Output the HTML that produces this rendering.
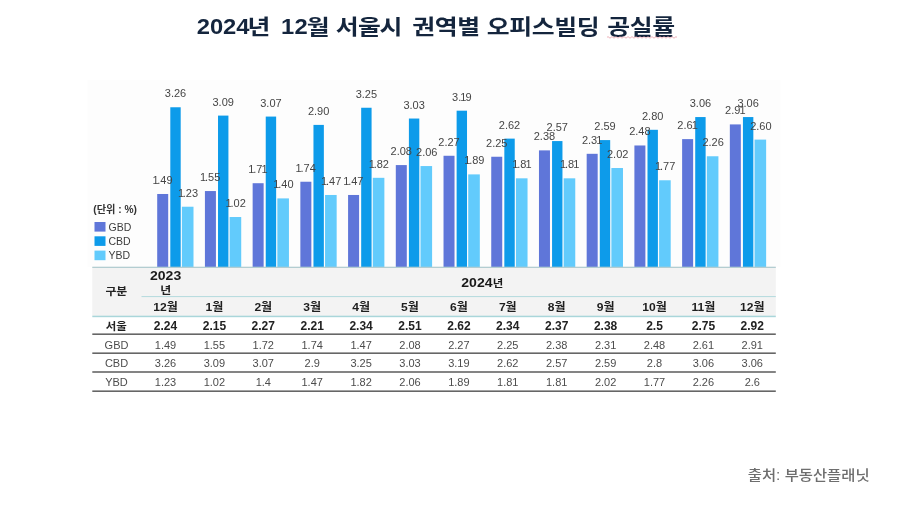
<!DOCTYPE html>
<html lang="ko"><head><meta charset="utf-8"><title>2024년 12월 서울시 권역별 오피스빌딩 공실률</title>
<style>
html,body{margin:0;padding:0;background:#fff;}
body{width:900px;height:510px;overflow:hidden;}
svg{display:block;}
text{font-family:"Liberation Sans","Noto Sans CJK KR","NanumGothic",sans-serif;}
.title{font-size:22px;font-weight:700;fill:#14253d;}
.lbl{font-size:11px;fill:#454545;text-anchor:middle;}
.lg{font-size:10.5px;fill:#3c3c3c;}
.unit{font-size:10.2px;fill:#333;font-weight:700;}
.thk{font-size:10.8px;font-weight:700;fill:#222;text-anchor:middle;}
.thn{font-size:13px;font-weight:700;fill:#1a1a1a;text-anchor:middle;}
.thy{font-size:12.5px;font-weight:700;fill:#1a1a1a;text-anchor:middle;}
.thm{font-size:11.2px;font-weight:700;fill:#1e1e1e;text-anchor:middle;}
.tbk{font-size:10.4px;font-weight:700;fill:#222;text-anchor:middle;}
.tb{font-size:12px;font-weight:700;fill:#222;text-anchor:middle;}
.td{font-size:11px;fill:#4c4c4c;text-anchor:middle;}
.src{font-size:14px;font-weight:500;fill:#6e6e6e;}
</style></head><body>
<svg width="900" height="510" viewBox="0 0 900 510">
<rect x="0" y="0" width="900" height="510" fill="#ffffff"/>
<rect x="87.5" y="80" width="693" height="187" fill="#fdfdfd"/>
<g>
<text class="title" style="font-size:22px" transform="scale(1.0800,1)" x="182.13 194.35 206.57 218.80" y="34.3">2024</text>
<text class="title" style="font-size:21px" transform="scale(1.1840,1)" x="209.12" y="33.7">년</text>
<text class="title" style="font-size:22px" transform="scale(1.0800,1)" x="260.19 272.59" y="34.3">12</text>
<text class="title" style="font-size:21px" transform="scale(1.1840,1)" x="259.12 274.49 283.61 302.36 320.61 337.84 348.14 367.15 386.15 402.87 411.06 430.07 449.07 468.07 487.08 504.22 512.84 531.84 550.84" y="33.7">월 서울시 권역별 오피스빌딩 공실률</text>
</g>
<path d="M607 37.4 Q608.0 35.8 609.0 37.4 Q610.0 39.0 611.0 37.4 Q612.0 35.8 613.0 37.4 Q614.0 39.0 615.0 37.4 Q616.0 35.8 617.0 37.4 Q618.0 39.0 619.0 37.4 Q620.0 35.8 621.0 37.4 Q622.0 39.0 623.0 37.4 Q624.0 35.8 625.0 37.4 Q626.0 39.0 627.0 37.4 Q628.0 35.8 629.0 37.4 Q630.0 39.0 631.0 37.4 Q632.0 35.8 633.0 37.4 Q634.0 39.0 635.0 37.4 Q636.0 35.8 637.0 37.4 Q638.0 39.0 639.0 37.4 Q640.0 35.8 641.0 37.4 Q642.0 39.0 643.0 37.4 Q644.0 35.8 645.0 37.4 Q646.0 39.0 647.0 37.4 Q648.0 35.8 649.0 37.4 Q650.0 39.0 651.0 37.4 Q652.0 35.8 653.0 37.4 Q654.0 39.0 655.0 37.4 Q656.0 35.8 657.0 37.4 Q658.0 39.0 659.0 37.4 Q660.0 35.8 661.0 37.4 Q662.0 39.0 663.0 37.4 Q664.0 35.8 665.0 37.4 Q666.0 39.0 667.0 37.4 Q668.0 35.8 669.0 37.4 Q670.0 39.0 671.0 37.4 Q672.0 35.8 673.0 37.4 Q674.0 39.0 675.0 37.4 Q676.0 35.8 677.0 37.4" fill="none" stroke="#e79aa4" stroke-width="0.9" opacity="0.85"/>
<rect x="157.20" y="193.99" width="11.00" height="73.01" fill="#5f76d9"/>
<rect x="170.30" y="107.26" width="10.40" height="159.74" fill="#0d9bea"/>
<rect x="181.90" y="206.73" width="11.60" height="60.27" fill="#62cbfc"/>
<rect x="204.92" y="191.05" width="11.00" height="75.95" fill="#5f76d9"/>
<rect x="218.02" y="115.59" width="10.40" height="151.41" fill="#0d9bea"/>
<rect x="229.62" y="217.02" width="11.60" height="49.98" fill="#62cbfc"/>
<rect x="252.64" y="183.21" width="11.00" height="83.79" fill="#5f76d9"/>
<rect x="265.74" y="116.57" width="10.40" height="150.43" fill="#0d9bea"/>
<rect x="277.34" y="198.40" width="11.60" height="68.60" fill="#62cbfc"/>
<rect x="300.36" y="181.74" width="11.00" height="85.26" fill="#5f76d9"/>
<rect x="313.46" y="124.90" width="10.40" height="142.10" fill="#0d9bea"/>
<rect x="325.06" y="194.97" width="11.60" height="72.03" fill="#62cbfc"/>
<rect x="348.08" y="194.97" width="11.00" height="72.03" fill="#5f76d9"/>
<rect x="361.18" y="107.75" width="10.40" height="159.25" fill="#0d9bea"/>
<rect x="372.78" y="177.82" width="11.60" height="89.18" fill="#62cbfc"/>
<rect x="395.80" y="165.08" width="11.00" height="101.92" fill="#5f76d9"/>
<rect x="408.90" y="118.53" width="10.40" height="148.47" fill="#0d9bea"/>
<rect x="420.50" y="166.06" width="11.60" height="100.94" fill="#62cbfc"/>
<rect x="443.52" y="155.77" width="11.00" height="111.23" fill="#5f76d9"/>
<rect x="456.62" y="110.69" width="10.40" height="156.31" fill="#0d9bea"/>
<rect x="468.22" y="174.39" width="11.60" height="92.61" fill="#62cbfc"/>
<rect x="491.24" y="156.75" width="11.00" height="110.25" fill="#5f76d9"/>
<rect x="504.34" y="138.62" width="10.40" height="128.38" fill="#0d9bea"/>
<rect x="515.94" y="178.31" width="11.60" height="88.69" fill="#62cbfc"/>
<rect x="538.96" y="150.38" width="11.00" height="116.62" fill="#5f76d9"/>
<rect x="552.06" y="141.07" width="10.40" height="125.93" fill="#0d9bea"/>
<rect x="563.66" y="178.31" width="11.60" height="88.69" fill="#62cbfc"/>
<rect x="586.68" y="153.81" width="11.00" height="113.19" fill="#5f76d9"/>
<rect x="599.78" y="140.09" width="10.40" height="126.91" fill="#0d9bea"/>
<rect x="611.38" y="168.02" width="11.60" height="98.98" fill="#62cbfc"/>
<rect x="634.40" y="145.48" width="11.00" height="121.52" fill="#5f76d9"/>
<rect x="647.50" y="129.80" width="10.40" height="137.20" fill="#0d9bea"/>
<rect x="659.10" y="180.27" width="11.60" height="86.73" fill="#62cbfc"/>
<rect x="682.12" y="139.11" width="11.00" height="127.89" fill="#5f76d9"/>
<rect x="695.22" y="117.06" width="10.40" height="149.94" fill="#0d9bea"/>
<rect x="706.82" y="156.26" width="11.60" height="110.74" fill="#62cbfc"/>
<rect x="729.84" y="124.41" width="11.00" height="142.59" fill="#5f76d9"/>
<rect x="742.94" y="117.06" width="10.40" height="149.94" fill="#0d9bea"/>
<rect x="754.54" y="139.60" width="11.60" height="127.40" fill="#62cbfc"/>
<text class="lbl" x="162.50" y="183.99" dx="0 -1.2 0 0">1.49</text>
<text class="lbl" x="175.50" y="97.26">3.26</text>
<text class="lbl" x="188.00" y="196.73" dx="0 -1.2 0 0">1.23</text>
<text class="lbl" x="210.22" y="181.05" dx="0 -1.2 0 0">1.55</text>
<text class="lbl" x="223.22" y="105.59">3.09</text>
<text class="lbl" x="235.72" y="207.02" dx="0 -1.2 0 0">1.02</text>
<text class="lbl" x="257.94" y="173.21" dx="0 -1.2 0 -0.9">1.71</text>
<text class="lbl" x="270.94" y="106.57">3.07</text>
<text class="lbl" x="283.44" y="188.40" dx="0 -1.2 0 0">1.40</text>
<text class="lbl" x="305.66" y="171.74" dx="0 -1.2 0 0">1.74</text>
<text class="lbl" x="318.66" y="114.90">2.90</text>
<text class="lbl" x="331.16" y="184.97" dx="0 -1.2 0 0">1.47</text>
<text class="lbl" x="353.38" y="184.97" dx="0 -1.2 0 0">1.47</text>
<text class="lbl" x="366.38" y="97.75">3.25</text>
<text class="lbl" x="378.88" y="167.82" dx="0 -1.2 0 0">1.82</text>
<text class="lbl" x="401.30" y="155.08">2.08</text>
<text class="lbl" x="414.10" y="108.53">3.03</text>
<text class="lbl" x="426.80" y="156.06">2.06</text>
<text class="lbl" x="449.02" y="145.77">2.27</text>
<text class="lbl" x="461.82" y="100.69" dx="0 0 -0.9 -0.9">3.19</text>
<text class="lbl" x="474.32" y="164.39" dx="0 -1.2 0 0">1.89</text>
<text class="lbl" x="496.74" y="146.75">2.25</text>
<text class="lbl" x="509.54" y="128.62">2.62</text>
<text class="lbl" x="522.04" y="168.31" dx="0 -1.2 0 -0.9">1.81</text>
<text class="lbl" x="544.46" y="140.38">2.38</text>
<text class="lbl" x="557.26" y="131.07">2.57</text>
<text class="lbl" x="569.76" y="168.31" dx="0 -1.2 0 -0.9">1.81</text>
<text class="lbl" x="592.18" y="143.81" dx="0 0 0 -0.9">2.31</text>
<text class="lbl" x="604.98" y="130.09">2.59</text>
<text class="lbl" x="617.68" y="158.02">2.02</text>
<text class="lbl" x="639.90" y="135.48">2.48</text>
<text class="lbl" x="652.70" y="119.80">2.80</text>
<text class="lbl" x="665.20" y="170.27" dx="0 -1.2 0 0">1.77</text>
<text class="lbl" x="687.62" y="129.11" dx="0 0 0 -0.9">2.61</text>
<text class="lbl" x="700.42" y="107.06">3.06</text>
<text class="lbl" x="713.12" y="146.26">2.26</text>
<text class="lbl" x="735.34" y="114.41" dx="0 0 0 -0.9">2.91</text>
<text class="lbl" x="748.14" y="107.06">3.06</text>
<text class="lbl" x="760.84" y="129.60">2.60</text>
<text class="unit" x="93.3" y="212.6">(단위 : %)</text>
<rect x="94.5" y="222.0" width="11" height="9.6" fill="#5f76d9"/>
<text class="lg" x="108.5" y="230.6">GBD</text>
<rect x="94.5" y="236.3" width="11" height="9.6" fill="#0d9bea"/>
<text class="lg" x="108.5" y="244.9">CBD</text>
<rect x="94.5" y="250.6" width="11" height="9.6" fill="#62cbfc"/>
<text class="lg" x="108.5" y="259.2">YBD</text>
<rect x="92.3" y="267" width="683.5" height="49" fill="#f3f3f3"/>
<rect x="92.3" y="266.7" width="683.5" height="1.3" fill="#b3cdd1"/>
<rect x="141.5" y="296" width="634.3" height="1.1" fill="#b9dcdf"/>
<rect x="92.3" y="315.7" width="683.5" height="1.5" fill="#a9d6da"/>
<rect x="92.3" y="333.4" width="683.5" height="1.6" fill="#666666"/>
<rect x="92.3" y="352.4" width="683.5" height="1.6" fill="#666666"/>
<rect x="92.3" y="371.2" width="683.5" height="1.6" fill="#666666"/>
<rect x="92.3" y="390.4" width="683.5" height="1.6" fill="#666666"/>
<text class="thk" transform="translate(116.30,0) scale(1.100,1)" x="0" y="295.50">구분</text>
<text class="thn" transform="translate(165.60,0) scale(1.080,1)" x="0" y="279.80">2023</text>
<text class="thk" transform="translate(165.60,0) scale(1.100,1)" x="0" y="293.80">년</text>
<text class="thn" transform="translate(482.30,0) scale(1.080,1)" x="0" y="286.80">2024<tspan font-size="10.6" dx="0.3">년</tspan></text>
<text class="thm" transform="translate(165.50,0) scale(1.080,1)" x="0" y="311.40">12월</text>
<text class="thm" transform="translate(214.40,0) scale(1.080,1)" x="0" y="311.40">1월</text>
<text class="thm" transform="translate(263.30,0) scale(1.080,1)" x="0" y="311.40">2월</text>
<text class="thm" transform="translate(312.20,0) scale(1.080,1)" x="0" y="311.40">3월</text>
<text class="thm" transform="translate(361.10,0) scale(1.080,1)" x="0" y="311.40">4월</text>
<text class="thm" transform="translate(410.00,0) scale(1.080,1)" x="0" y="311.40">5월</text>
<text class="thm" transform="translate(458.90,0) scale(1.080,1)" x="0" y="311.40">6월</text>
<text class="thm" transform="translate(507.80,0) scale(1.080,1)" x="0" y="311.40">7월</text>
<text class="thm" transform="translate(556.70,0) scale(1.080,1)" x="0" y="311.40">8월</text>
<text class="thm" transform="translate(605.60,0) scale(1.080,1)" x="0" y="311.40">9월</text>
<text class="thm" transform="translate(654.50,0) scale(1.080,1)" x="0" y="311.40">10월</text>
<text class="thm" transform="translate(703.40,0) scale(1.080,1)" x="0" y="311.40">11월</text>
<text class="thm" transform="translate(752.30,0) scale(1.080,1)" x="0" y="311.40">12월</text>
<text class="tbk" transform="translate(116.30,0) scale(1.100,1)" x="0" y="329.90">서울</text>
<text class="tb" x="165.50" y="330.10">2.24</text>
<text class="tb" x="214.40" y="330.10">2.15</text>
<text class="tb" x="263.30" y="330.10">2.27</text>
<text class="tb" x="312.20" y="330.10">2.21</text>
<text class="tb" x="361.10" y="330.10">2.34</text>
<text class="tb" x="410.00" y="330.10">2.51</text>
<text class="tb" x="458.90" y="330.10">2.62</text>
<text class="tb" x="507.80" y="330.10">2.34</text>
<text class="tb" x="556.70" y="330.10">2.37</text>
<text class="tb" x="605.60" y="330.10">2.38</text>
<text class="tb" x="654.50" y="330.10">2.5</text>
<text class="tb" x="703.40" y="330.10">2.75</text>
<text class="tb" x="752.30" y="330.10">2.92</text>
<text class="td" x="116.50" y="348.70">GBD</text>
<text class="td" x="165.50" y="348.70">1.49</text>
<text class="td" x="214.40" y="348.70">1.55</text>
<text class="td" x="263.30" y="348.70">1.72</text>
<text class="td" x="312.20" y="348.70">1.74</text>
<text class="td" x="361.10" y="348.70">1.47</text>
<text class="td" x="410.00" y="348.70">2.08</text>
<text class="td" x="458.90" y="348.70">2.27</text>
<text class="td" x="507.80" y="348.70">2.25</text>
<text class="td" x="556.70" y="348.70">2.38</text>
<text class="td" x="605.60" y="348.70">2.31</text>
<text class="td" x="654.50" y="348.70">2.48</text>
<text class="td" x="703.40" y="348.70">2.61</text>
<text class="td" x="752.30" y="348.70">2.91</text>
<text class="td" x="116.50" y="367.30">CBD</text>
<text class="td" x="165.50" y="367.30">3.26</text>
<text class="td" x="214.40" y="367.30">3.09</text>
<text class="td" x="263.30" y="367.30">3.07</text>
<text class="td" x="312.20" y="367.30">2.9</text>
<text class="td" x="361.10" y="367.30">3.25</text>
<text class="td" x="410.00" y="367.30">3.03</text>
<text class="td" x="458.90" y="367.30">3.19</text>
<text class="td" x="507.80" y="367.30">2.62</text>
<text class="td" x="556.70" y="367.30">2.57</text>
<text class="td" x="605.60" y="367.30">2.59</text>
<text class="td" x="654.50" y="367.30">2.8</text>
<text class="td" x="703.40" y="367.30">3.06</text>
<text class="td" x="752.30" y="367.30">3.06</text>
<text class="td" x="116.50" y="386.00">YBD</text>
<text class="td" x="165.50" y="386.00">1.23</text>
<text class="td" x="214.40" y="386.00">1.02</text>
<text class="td" x="263.30" y="386.00">1.4</text>
<text class="td" x="312.20" y="386.00">1.47</text>
<text class="td" x="361.10" y="386.00">1.82</text>
<text class="td" x="410.00" y="386.00">2.06</text>
<text class="td" x="458.90" y="386.00">1.89</text>
<text class="td" x="507.80" y="386.00">1.81</text>
<text class="td" x="556.70" y="386.00">1.81</text>
<text class="td" x="605.60" y="386.00">2.02</text>
<text class="td" x="654.50" y="386.00">1.77</text>
<text class="td" x="703.40" y="386.00">2.26</text>
<text class="td" x="752.30" y="386.00">2.6</text>
<text class="src" transform="translate(747.8,0) scale(1.1,1)" x="0" y="479.8">출처: 부동산플래닛</text>
</svg></body></html>
